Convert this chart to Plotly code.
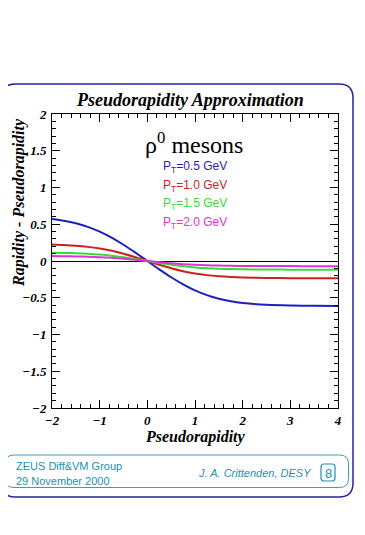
import plotly.graph_objects as go

# ---- data ----
eta = [-2, -1.75, -1.5, -1.25, -1, -0.75, -0.5, -0.25, 0, 0.25, 0.5, 0.75, 1,
       1.25, 1.5, 1.75, 2, 2.5, 3, 3.5, 4]
pt05 = [0.5716, 0.5482, 0.5136, 0.4648, 0.3996, 0.3178, 0.2211, 0.1135, 0,
        -0.1135, -0.2211, -0.3178, -0.3996, -0.4648, -0.5136, -0.5482, -0.5716,
        -0.5965, -0.6063, -0.6101, -0.6114]
pt10 = [0.2246, 0.2180, 0.2078, 0.1923, 0.1698, 0.1388, 0.0990, 0.0516, 0,
        -0.0516, -0.0990, -0.1388, -0.1698, -0.1923, -0.2078, -0.2180, -0.2246,
        -0.2312, -0.2337, -0.2346, -0.2350]
pt15 = [0.1135, 0.1105, 0.1059, 0.0986, 0.0878, 0.0725, 0.0522, 0.0274, 0,
        -0.0274, -0.0522, -0.0725, -0.0878, -0.0986, -0.1059, -0.1105, -0.1135,
        -0.1165, -0.1176, -0.1180, -0.1182]
pt20 = [0.0673, 0.0655, 0.0629, 0.0588, 0.0525, 0.0435, 0.0314, 0.0166, 0,
        -0.0166, -0.0314, -0.0435, -0.0525, -0.0588, -0.0629, -0.0655, -0.0673,
        -0.0689, -0.0696, -0.0698, -0.0699]
series_labels = ["0.5", "1.0", "1.5", "2.0"]
x_ticks = [-2, -1, 0, 1, 2, 3, 4]
y_ticks = [-2, -1.5, -1, -0.5, 0, 0.5, 1, 1.5, 2]

colors = ["#1f1fbf", "#cc1f1f", "#33dd33", "#dd33dd"]

OFF = 8  # page body margin
W, H = 357, 527
L, R, T, B = 52, 338, 114, 408  # plot area in page pixels


def px(x):
    return (x - L) / (R - L)


def py(y):
    return (B - y) / (B - T)


def rrect(x0, y0, x1, y1, r):
    pts = [
        ("M", [(x0 + r, y0)]), ("L", [(x1 - r, y0)]), ("Q", [(x1, y0), (x1, y0 + r)]),
        ("L", [(x1, y1 - r)]), ("Q", [(x1, y1), (x1 - r, y1)]), ("L", [(x0 + r, y1)]),
        ("Q", [(x0, y1), (x0, y1 - r)]), ("L", [(x0, y0 + r)]), ("Q", [(x0, y0), (x0 + r, y0)]),
    ]
    s = ""
    for cmd, ps in pts:
        s += cmd + " " + " ".join(f"{px(a):.5f},{py(b):.5f}" for a, b in ps) + " "
    return s + "Z"


fig = go.Figure()
for ys, c in zip([pt05, pt10, pt15, pt20], colors):
    fig.add_trace(go.Scatter(x=eta, y=ys, mode="lines",
                             line=dict(color=c, width=2, shape="spline", smoothing=0.8),
                             showlegend=False, hoverinfo="skip"))

serif = "Liberation Serif"
tickfont = dict(family=serif, size=13, color="black", weight="bold", style="italic")

fig.update_layout(
    width=W, height=H,
    margin=dict(l=L - OFF, r=W - (R - OFF), t=T - OFF, b=H - (B - OFF), pad=0),
    paper_bgcolor="white", plot_bgcolor="white",
    xaxis=dict(range=[-2, 4], tickvals=x_ticks, ticks="inside", ticklen=8, tickcolor="black",
               showline=True, linecolor="black", linewidth=1, mirror="allticks",
               showgrid=False, zeroline=False, tickfont=tickfont, ticklabelstandoff=0,
               minor=dict(dtick=0.2, ticks="inside", ticklen=4, tickcolor="black", showgrid=False)),
    yaxis=dict(range=[-2, 2], tickvals=y_ticks, ticks="inside", ticklen=8, tickcolor="black",
               showline=True, linecolor="black", linewidth=1, mirror="allticks",
               showgrid=False, zeroline=True, zerolinecolor="black", zerolinewidth=1,
               tickfont=tickfont, ticklabelstandoff=2,
               minor=dict(dtick=0.1, ticks="inside", ticklen=4, tickcolor="black", showgrid=False)),
)

shapes = [
    dict(type="path", xref="paper", yref="paper", path=rrect(1.5, 84, 353, 497, 14),
         line=dict(color="#2525a5", width=1.5), layer="below"),
    dict(type="path", xref="paper", yref="paper", path=rrect(5, 455, 348.5, 487.5, 9),
         line=dict(color="#3a9cc0", width=1), layer="below"),
    dict(type="path", xref="paper", yref="paper", path=rrect(321, 464, 335, 481, 3),
         line=dict(color="#1e8fb5", width=1.2), layer="below"),
]
fig.update_layout(shapes=shapes)

ann = []


def A(text, x, y, size, color="black", family=serif, xanchor="center", angle=0, **kw):
    ann.append(dict(text=text, x=px(x), y=py(y), xref="paper", yref="paper",
                    showarrow=False, xanchor=xanchor, yanchor="middle", textangle=angle,
                    font=dict(family=family, size=size, color=color, **kw)))


A("Pseudorapidity Approximation", 190, 100, 18, weight="bold", style="italic")
A("Pseudorapidity", 195, 437, 16, weight="bold", style="italic")
A("Rapidity - Pseudorapidity", 19, 203, 16, weight="bold", style="italic", angle=-90)
A("ρ<sup>0</sup> mesons", 194, 143, 24)
for i, (lab, c) in enumerate(zip(series_labels, colors)):
    A(f"P<sub>T</sub>=" + lab + " GeV", 161, 167 + 18.5 * i, 12, color=c,
      family="Liberation Sans", xanchor="left")

teal = "#1e8fb5"
A("ZEUS Diff&VM Group", 14, 466, 11, color=teal, family="Liberation Sans", xanchor="left")
A("29 November 2000", 14, 481, 11, color=teal, family="Liberation Sans", xanchor="left")
A("J. A. Crittenden, DESY", 313, 473, 11, color=teal, family="Liberation Sans",
  xanchor="right", style="italic")
A("8", 328, 473, 13, color=teal, family="Liberation Sans")
fig.update_layout(annotations=ann)

fig.write_html("out.html")
